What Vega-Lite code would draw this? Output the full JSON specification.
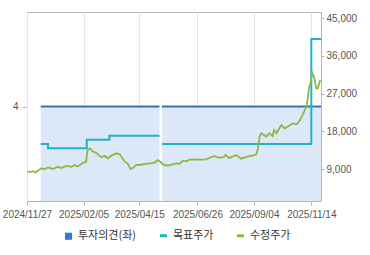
{
  "$schema": "https://vega.github.io/schema/vega-lite/v6.json",
  "width": 294,
  "height": 189,
  "autosize": {"type": "none"},
  "padding": {"left": 27, "top": 12, "right": 49, "bottom": 54},
  "background": "white",
  "config": {
    "view": {"stroke": "#b4b4b4", "strokeWidth": 1},
    "font": "Liberation Sans",
    "axis": {
      "labelFont": "Liberation Sans",
      "labelFontSize": 10,
      "labelColor": "#555555",
      "tickColor": "#b4b4b4",
      "domainColor": "#b4b4b4",
      "title": null
    },
    "legend": {
      "labelFont": "Noto Sans CJK KR",
      "labelFontSize": 11,
      "labelColor": "#333333"
    }
  },
  "datasets": {
    "opinion": [
      {"start": "2024-12-14", "end": "2025-05-10", "opinion": 4},
      {"start": "2025-05-13", "end": "2025-11-26", "opinion": 4}
    ],
    "target": [
      {"date": "2024-12-14", "price": 15000, "seg": 1},
      {"date": "2024-12-23", "price": 14000, "seg": 1},
      {"date": "2025-02-09", "price": 16000, "seg": 1},
      {"date": "2025-03-09", "price": 17000, "seg": 1},
      {"date": "2025-05-10", "price": 17000, "seg": 1},
      {"date": "2025-05-13", "price": 15000, "seg": 2},
      {"date": "2025-11-14", "price": 40000, "seg": 2},
      {"date": "2025-11-26", "price": 40000, "seg": 2}
    ],
    "price": [
      {"date": "2024-11-27", "price": 8420},
      {"date": "2024-12-02", "price": 8400},
      {"date": "2024-12-05", "price": 8550},
      {"date": "2024-12-07", "price": 8190},
      {"date": "2024-12-10", "price": 8600},
      {"date": "2024-12-15", "price": 9230},
      {"date": "2024-12-19", "price": 9000},
      {"date": "2024-12-22", "price": 9350},
      {"date": "2024-12-25", "price": 9400},
      {"date": "2024-12-28", "price": 9100},
      {"date": "2024-12-31", "price": 9200},
      {"date": "2025-01-04", "price": 9610},
      {"date": "2025-01-07", "price": 9350},
      {"date": "2025-01-10", "price": 9400},
      {"date": "2025-01-13", "price": 9700},
      {"date": "2025-01-16", "price": 9800},
      {"date": "2025-01-21", "price": 9600},
      {"date": "2025-01-25", "price": 10020},
      {"date": "2025-01-28", "price": 9700},
      {"date": "2025-01-30", "price": 9800},
      {"date": "2025-02-04", "price": 10560},
      {"date": "2025-02-08", "price": 10700},
      {"date": "2025-02-10", "price": 13590},
      {"date": "2025-02-13", "price": 14000},
      {"date": "2025-02-16", "price": 13300},
      {"date": "2025-02-21", "price": 12900},
      {"date": "2025-02-24", "price": 12300},
      {"date": "2025-02-27", "price": 11850},
      {"date": "2025-03-03", "price": 12200},
      {"date": "2025-03-07", "price": 11610},
      {"date": "2025-03-12", "price": 12300},
      {"date": "2025-03-18", "price": 12800},
      {"date": "2025-03-22", "price": 12500},
      {"date": "2025-03-28", "price": 10800},
      {"date": "2025-04-01", "price": 10300},
      {"date": "2025-04-04", "price": 9060},
      {"date": "2025-04-08", "price": 9400},
      {"date": "2025-04-11", "price": 10020},
      {"date": "2025-04-15", "price": 10020},
      {"date": "2025-04-21", "price": 10250},
      {"date": "2025-04-28", "price": 10400},
      {"date": "2025-05-04", "price": 10600},
      {"date": "2025-05-08", "price": 11200},
      {"date": "2025-05-11", "price": 10800},
      {"date": "2025-05-15", "price": 10100},
      {"date": "2025-05-20", "price": 9850},
      {"date": "2025-05-25", "price": 10100},
      {"date": "2025-05-31", "price": 10420},
      {"date": "2025-06-04", "price": 10300},
      {"date": "2025-06-08", "price": 11040},
      {"date": "2025-06-13", "price": 10900},
      {"date": "2025-06-16", "price": 11300},
      {"date": "2025-06-20", "price": 11370},
      {"date": "2025-06-29", "price": 11300},
      {"date": "2025-07-07", "price": 11370},
      {"date": "2025-07-11", "price": 11700},
      {"date": "2025-07-17", "price": 12160},
      {"date": "2025-07-22", "price": 11800},
      {"date": "2025-07-28", "price": 11850},
      {"date": "2025-07-31", "price": 12400},
      {"date": "2025-08-04", "price": 11700},
      {"date": "2025-08-09", "price": 12000},
      {"date": "2025-08-13", "price": 12400},
      {"date": "2025-08-16", "price": 12000},
      {"date": "2025-08-19", "price": 11530},
      {"date": "2025-08-25", "price": 11900},
      {"date": "2025-08-30", "price": 12160},
      {"date": "2025-09-04", "price": 12300},
      {"date": "2025-09-07", "price": 12560},
      {"date": "2025-09-09", "price": 14000},
      {"date": "2025-09-11", "price": 16750},
      {"date": "2025-09-13", "price": 17560},
      {"date": "2025-09-16", "price": 17200},
      {"date": "2025-09-19", "price": 16750},
      {"date": "2025-09-23", "price": 17560},
      {"date": "2025-09-27", "price": 16900},
      {"date": "2025-09-29", "price": 18340},
      {"date": "2025-10-02", "price": 17560},
      {"date": "2025-10-04", "price": 18300},
      {"date": "2025-10-08", "price": 19530},
      {"date": "2025-10-12", "price": 18750},
      {"date": "2025-10-17", "price": 19300},
      {"date": "2025-10-22", "price": 19930},
      {"date": "2025-10-27", "price": 19700},
      {"date": "2025-10-31", "price": 20720},
      {"date": "2025-11-04", "price": 22320},
      {"date": "2025-11-08", "price": 23890},
      {"date": "2025-11-09", "price": 25000},
      {"date": "2025-11-11", "price": 28270},
      {"date": "2025-11-13", "price": 29450},
      {"date": "2025-11-15", "price": 31980},
      {"date": "2025-11-16", "price": 31500},
      {"date": "2025-11-18", "price": 30630},
      {"date": "2025-11-20", "price": 28270},
      {"date": "2025-11-22", "price": 28270},
      {"date": "2025-11-25", "price": 30240}
    ]
  },
  "layer": [
    {
      "layer": [
        {
          "data": {"name": "opinion"},
          "mark": {"type": "rect", "fill": "#dce7f7"},
          "encoding": {
            "x": {
              "field": "start",
              "type": "temporal",
              "title": null,
              "scale": {
                "type": "utc",
                "domain": [
                  {"year": 2024, "month": 11, "date": 27, "utc": true},
                  {"year": 2025, "month": 11, "date": 26, "utc": true}
                ]
              },
              "axis": {
                "values": [
                  {"year": 2024, "month": 11, "date": 27, "utc": true},
                  {"year": 2025, "month": 2, "date": 5, "utc": true},
                  {"year": 2025, "month": 4, "date": 15, "utc": true},
                  {"year": 2025, "month": 6, "date": 26, "utc": true},
                  {"year": 2025, "month": 9, "date": 4, "utc": true},
                  {"year": 2025, "month": 11, "date": 14, "utc": true}
                ],
                "format": "%Y/%m/%d",
                "grid": true,
                "gridColor": "#e2e6ec",
                "gridWidth": 1,
                "tickSize": 4,
                "labelPadding": 4,
                "domain": false,
                "labelFlush": false,
                "labelBound": false,
                "labelOverlap": false
              }
            },
            "x2": {"field": "end"},
            "y": {
              "field": "opinion",
              "type": "quantitative",
              "title": null,
              "scale": {"domain": [0, 8], "nice": false},
              "axis": {
                "orient": "left",
                "values": [4],
                "grid": false,
                "domain": false,
                "tickSize": 5,
                "labelPadding": 4
              }
            },
            "y2": {"datum": 0}
          }
        },
        {
          "data": {"name": "opinion"},
          "mark": {"type": "rule", "strokeWidth": 2},
          "encoding": {
            "x": {"field": "start", "type": "temporal", "title": null},
            "x2": {"field": "end"},
            "y": {"field": "opinion", "type": "quantitative", "title": null},
            "color": {
              "datum": "투자의견(좌)",
              "type": "nominal",
              "scale": {
                "domain": ["투자의견(좌)", "목표주가", "수정주가"],
                "range": ["#3a70b8", "#1eb3c9", "#8db843"]
              },
              "legend": {
                "title": null,
                "orient": "none",
                "legendX": 36,
                "legendY": 218,
                "direction": "horizontal",
                "symbolSize": 50,
                "columnPadding": 16,
                "encode": {
                  "symbols": {
                    "update": {
                      "shape": {"signal": "datum.value === '투자의견(좌)' ? 'square' : 'stroke'"},
                      "fill": {"signal": "datum.value === '투자의견(좌)' ? '#2f78d6' : 'transparent'"},
                      "strokeWidth": {"signal": "datum.value === '투자의견(좌)' ? 0 : 3"}
                    }
                  }
                }
              }
            }
          }
        }
      ]
    },
    {
      "layer": [
        {
          "data": {"name": "target"},
          "mark": {"type": "line", "interpolate": "step-after", "strokeWidth": 2},
          "encoding": {
            "x": {"field": "date", "type": "temporal", "title": null},
            "y": {
              "field": "price",
              "type": "quantitative",
              "title": null,
              "scale": {"domain": [1450, 46430], "nice": false, "zero": false},
              "axis": {
                "orient": "right",
                "values": [9000, 18000, 27000, 36000, 45000],
                "format": ",.0f",
                "grid": false,
                "domain": false,
                "tickSize": 3,
                "labelPadding": 2
              }
            },
            "detail": {"field": "seg", "type": "nominal"},
            "color": {"datum": "목표주가", "type": "nominal"}
          }
        },
        {
          "data": {"name": "price"},
          "mark": {"type": "line", "strokeWidth": 1.8},
          "encoding": {
            "x": {"field": "date", "type": "temporal", "title": null},
            "y": {"field": "price", "type": "quantitative", "title": null},
            "color": {"datum": "수정주가", "type": "nominal"}
          }
        }
      ]
    }
  ],
  "resolve": {"scale": {"y": "independent"}}
}
